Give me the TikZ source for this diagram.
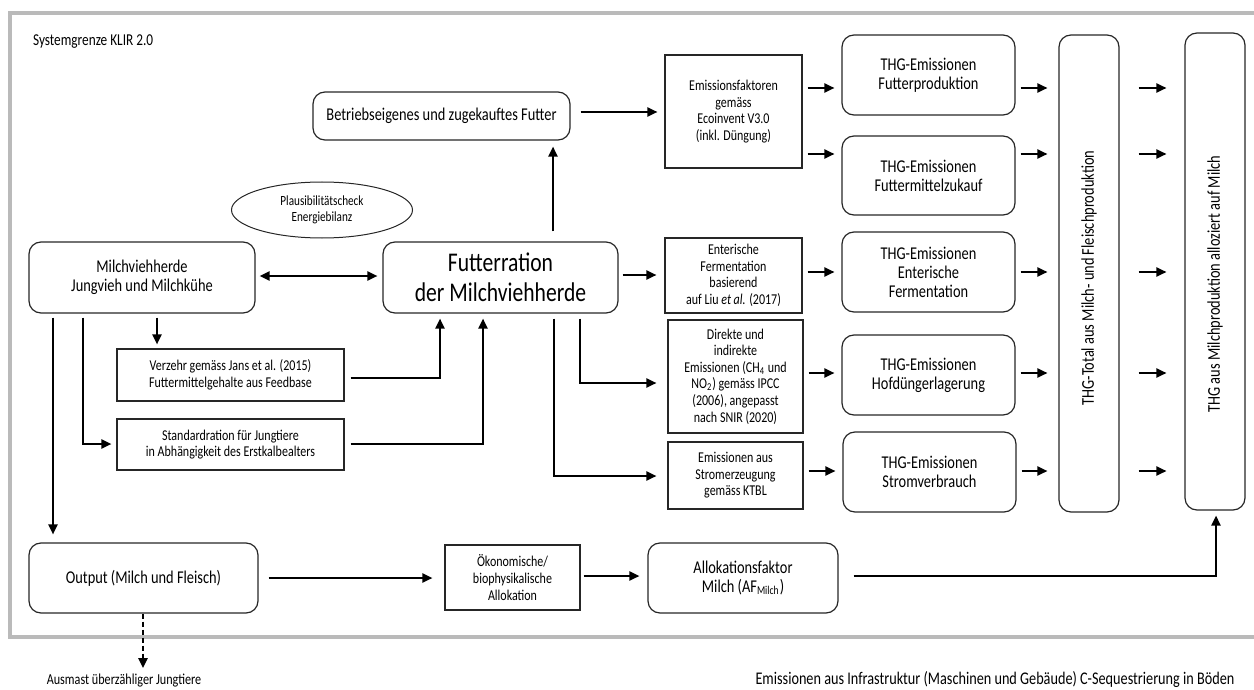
\documentclass[tikz,border=0pt]{standalone}
\usepackage{fontspec}
\setmainfont{Carlito}[FakeStretch=0.8]
\usetikzlibrary{arrows.meta,shapes.geometric,calc}
\begin{document}
\begin{tikzpicture}[x=0.5pt,y=-0.5pt,
  tip/.tip={Triangle[length=5pt,width=4.6pt]},
  arr/.style={line width=1pt,-tip},
  rbox/.style={draw=black!85,line width=0.6pt,rounded corners=6pt,align=center,inner sep=1pt},
  sbox/.style={draw=black!85,line width=0.6pt,align=center,inner sep=1pt,font=\fontsize{7.5}{8.3}\selectfont},
  mainf/.style={font=\fontsize{9}{9.5}\selectfont},
]
\useasboundingbox (0,0) rectangle (1254,690);
% system boundary
\draw[black!27,line width=1.6pt] (1254,13) -- (10,13) -- (10,637) -- (1254,637);
\node[anchor=west,font=\fontsize{8.3}{9}\selectfont] (sys) at (26,42) {Systemgrenze KLIR 2.0};

% nodes
\node[rbox,mainf,minimum width=128.5pt,minimum height=24pt] (betr) at (441.5,116) {Betriebseigenes und zugekauftes Futter};
\node[draw=black!85,line width=0.5pt,ellipse,minimum width=90.5pt,minimum height=28pt,inner sep=0pt,align=center,font=\fontsize{7}{8.2}\selectfont] (plaus) at (322,210) {Plausibilitätscheck\\Energiebilanz};
\node[rbox,font=\fontsize{13.5}{15}\selectfont,minimum width=117.5pt,minimum height=35.5pt] (futter) at (500.5,277.5) {Futterration\\der Milchviehherde};
\node[sbox,minimum width=68.5pt,minimum height=56.5pt] (emf) at (733.5,111.5) {Emissionsfaktoren\\gemäss\\Ecoinvent V3.0\\(inkl. Düngung)};
\node[sbox,minimum width=68.5pt,minimum height=37.5pt] (ent) at (733.5,275.5) {Enterische\\Fermentation\\basierend\\auf Liu \textit{et al.} (2017)};
\node[sbox,minimum width=67.5pt,minimum height=56.5pt] (dir) at (735.5,376.5) {Direkte und\\indirekte\\Emissionen (CH\textsubscript{4} und\\NO\textsubscript{2}) gemäss IPCC\\(2006), angepasst\\nach SNIR (2020)};
\node[sbox,minimum width=67.5pt,minimum height=33.5pt] (strom) at (735.5,475.5) {Emissionen aus\\Stromerzeugung\\gemäss KTBL};

\node[rbox,mainf,minimum width=86.5pt,minimum height=40pt] (t1) at (928.5,75) {THG-Emissionen\\Futterproduktion};
\node[rbox,mainf,minimum width=86.5pt,minimum height=39.5pt] (t2) at (928.5,175.5) {THG-Emissionen\\Futtermittelzukauf};
\node[rbox,mainf,minimum width=86.5pt,minimum height=40pt] (t3) at (928.5,272) {THG-Emissionen\\Enterische\\Fermentation};
\node[rbox,mainf,minimum width=86.5pt,minimum height=40pt] (t4) at (928.5,375) {THG-Emissionen\\Hofdüngerlagerung};
\node[rbox,mainf,minimum width=86.5pt,minimum height=40pt] (t5) at (929.5,472) {THG-Emissionen\\Stromverbrauch};

\node[rbox,minimum width=30pt,minimum height=238.5pt] (tot) at (1089,273.5) {};
\node[mainf,rotate=90] (tottxt) at (1089,278) {THG-Total aus Milch- und Fleischproduktion};
\node[rbox,minimum width=30pt,minimum height=238.5pt] (milk) at (1215,271.5) {};
\node[mainf,rotate=90] (milktxt) at (1215,284) {THG aus Milchproduktion alloziert auf Milch};

\node[rbox,mainf,minimum width=113pt,minimum height=35.5pt] (herd) at (142,277.5) {Milchviehherde\\Jungvieh und Milchkühe};
\node[sbox,minimum width=113.5pt,minimum height=26pt] (verz) at (230.5,375) {Verzehr gemäss Jans et al. (2015)\\Futtermittelgehalte aus Feedbase};
\node[sbox,minimum width=113.5pt,minimum height=25.5pt] (std) at (230.5,444.5) {Standardration für Jungtiere\\in Abhängigkeit des Erstkalbealters};

\node[rbox,mainf,minimum width=114.5pt,minimum height=35pt] (out) at (143.5,578) {Output (Milch und Fleisch)};
\node[sbox,minimum width=67.5pt,minimum height=32.5pt] (oek) at (512.5,577.5) {Ökonomische/\\biophysikalische\\Allokation};
\node[rbox,mainf,minimum width=95pt,minimum height=35pt] (af) at (743,578) {Allokationsfaktor\\Milch (AF\textsubscript{Milch})};

\node[font=\fontsize{7.6}{9}\selectfont] (ausm) at (124,681) {Ausmast überzähliger Jungtiere};
\node[font=\fontsize{8.9}{10}\selectfont] (infra) at (995,680) {Emissionen aus Infrastruktur (Maschinen und Gebäude) C-Sequestrierung in Böden};

% helper coordinates
\coordinate (ya) at (0,88);
\coordinate (yb) at (0,154);
\coordinate (yc) at (0,272);
\coordinate (yd) at (0,373);
\coordinate (ye) at (0,471);
\coordinate (y112) at (0,112);
\coordinate (y275) at (0,275);
\coordinate (y276) at (0,276);
\coordinate (y383) at (0,383);
\coordinate (y476) at (0,476);
\coordinate (y378) at (0,378);
\coordinate (y444) at (0,444);
\coordinate (y578) at (0,578);
\coordinate (y576) at (0,576);
\coordinate (x553) at (553,0);
\coordinate (x580) at (580,0);
\coordinate (x554) at (554,0);
\coordinate (x157) at (157,0);
\coordinate (x440) at (440,0);
\coordinate (x483) at (483,0);
\coordinate (x83) at (83,0);
\coordinate (x53) at (53,0);
\coordinate (x1216) at (1216,0);
\coordinate (ausmtip) at (143,668);

% connectors
\draw[arr,shorten <=5pt,shorten >=3pt] (futter.north -| x553) -- (betr.south -| x553);
\draw[arr,shorten <=5pt,shorten >=3.5pt] (betr.east |- y112) -- (emf.west |- y112);
\draw[arr,shorten <=2.5pt,shorten >=3.5pt] (emf.east |- ya) -- (t1.west |- ya);
\draw[arr,shorten <=2.5pt,shorten >=3.5pt] (emf.east |- yb) -- (t2.west |- yb);
\draw[arr,shorten <=2pt,shorten >=4pt] (futter.east |- y275) -- (ent.west |- y275);
\draw[arr,shorten <=2.5pt,shorten >=3.5pt] (ent.east |- yc) -- (t3.west |- yc);
\draw[arr,shorten <=2.5pt,shorten >=5.5pt] (futter.south -| x580) |- (dir.west |- y383);
\draw[arr,shorten <=2.5pt,shorten >=3.5pt] (dir.east |- yd) -- (t4.west |- yd);
\draw[arr,shorten <=2.5pt,shorten >=5.5pt] (futter.south -| x554) |- (strom.west |- y476);
\draw[arr,shorten <=2.5pt,shorten >=3.5pt] (strom.east |- ye) -- (t5.west |- ye);
\foreach \t/\y in {t1/ya,t2/yb,t3/yc,t4/yd,t5/ye}{
  \draw[arr,shorten <=2.5pt,shorten >=5.5pt] (\t.east |- \y) -- (tot.west |- \y);
  \draw[arr,shorten <=9.5pt,shorten >=9pt] (tot.east |- \y) -- (milk.west |- \y);
}
\draw[line width=1pt,tip-tip,shorten <=2pt,shorten >=2.5pt] (herd.east |- y276) -- (futter.west |- y276);
\draw[arr,shorten <=2pt,shorten >=2pt] (herd.south -| x157) -- (verz.north -| x157);
\draw[arr,shorten <=3pt,shorten >=2.5pt] (verz.east |- y378) -| (futter.south -| x440);
\draw[arr,shorten <=3pt,shorten >=2.5pt] (std.east |- y444) -| (futter.south -| x483);
\draw[arr,shorten <=2pt,shorten >=2.5pt] (herd.south -| x83) |- (std.west |- y444);
\draw[arr,shorten <=2pt,shorten >=4pt] (herd.south -| x53) -- (out.north -| x53);
\draw[arr,dash pattern=on 2.5pt off 1.5pt] (out.south -| ausmtip) -- (ausmtip);
\draw[arr,shorten <=5pt,shorten >=6pt] (out.east |- y578) -- (oek.west |- y578);
\draw[arr,shorten <=1.5pt,shorten >=4pt] (oek.east |- y576) -- (af.west |- y576);
\draw[arr,shorten <=7.5pt,shorten >=2.5pt] (af.east |- y576) -| (milk.south -| x1216);
\end{tikzpicture}
\end{document}
